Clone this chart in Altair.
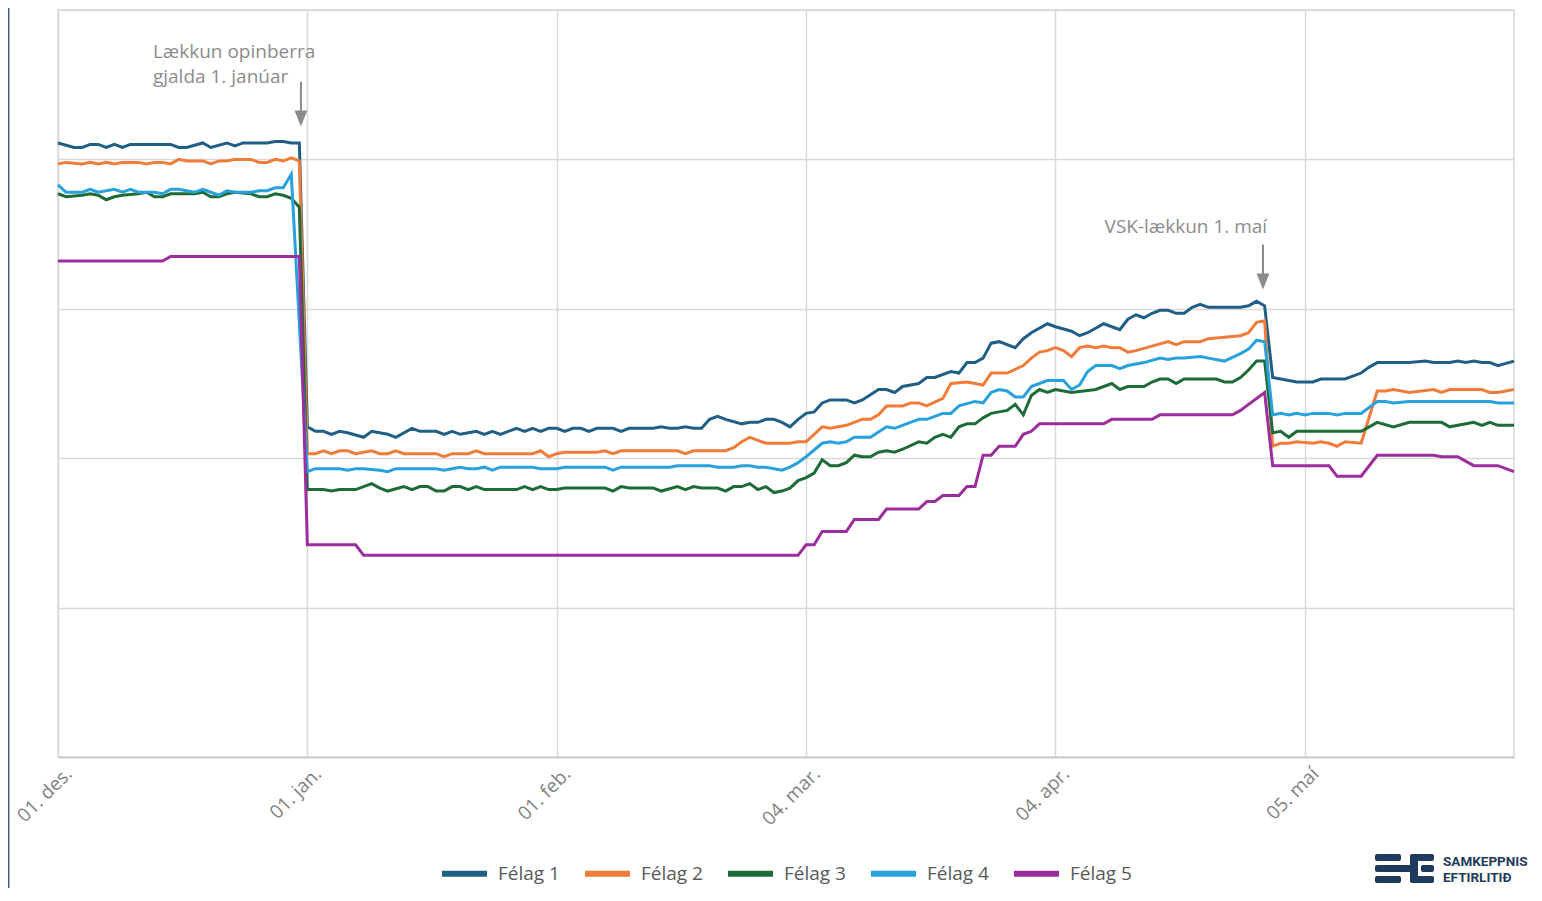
import altair as alt
import pandas as pd

# ---------------- data ----------------
felog = ["Félag 1", "Félag 2", "Félag 3", "Félag 4", "Félag 5"]
litir = ["#1f5f85", "#f07c3a", "#1d6b36", "#28a1dc", "#9c2d9c"]

# x = day number counted from 1 December
dags_stadir = [0, 31, 62, 93, 124, 155]
dags_merki = ["01. des.", "01. jan.", "01. feb.", "04. mar.", "04. apr.", "05. maí"]

f1_dagar = [0, 2, 3, 4, 5, 6, 7, 8, 9, 14, 15, 16, 18, 19, 21, 22, 23, 26, 27, 28, 29, 30,
            31, 32, 33, 34, 35, 36, 38, 39, 41, 42, 44, 45, 47, 48, 49, 50, 52, 53, 54, 55, 57, 58, 59, 60, 61, 62,
            63, 64, 65, 66, 67, 69, 70, 71, 74, 75, 76, 77, 78, 79, 80, 81, 82, 83, 85, 86, 87, 88, 89, 90, 91, 92, 93,
            94, 95, 96, 98, 99, 100, 102, 103, 104, 105, 107, 108, 109, 111, 112, 113, 114, 115, 116, 117, 119, 120, 121, 123,
            124, 126, 127, 128, 130, 131, 132, 133, 134, 135, 136, 137, 138, 139, 140, 141, 142, 143, 147, 148, 149, 150,
            151, 152, 153, 154, 156, 157, 160, 162, 163, 164, 168, 170, 171, 173, 174, 175, 176, 177, 178, 179, 181]
f1_gildi = [411, 408, 408, 410, 410, 408, 410, 408, 410, 410, 408, 408, 411, 408, 411, 409, 411, 411, 412, 412, 411, 411,
            221, 218, 218, 216, 218, 217, 214, 218, 216, 214, 220, 218, 218, 216, 218, 216, 218, 216, 218, 216, 220, 218, 220, 218, 220, 220,
            218, 220, 220, 218, 220, 220, 218, 220, 220, 221, 220, 220, 221, 220, 220, 226, 228, 226, 223, 224, 224, 226, 226, 224, 221, 226, 230,
            231, 237, 239, 239, 237, 239, 246, 246, 244, 248, 250, 254, 254, 258, 257, 264, 264, 267, 277, 278, 274, 280, 284, 290,
            288, 285, 282, 284, 290, 288, 286, 293, 296, 294, 297, 299, 299, 297, 297, 301, 303, 301, 301, 302, 305, 302,
            254, 253, 252, 251, 251, 253, 253, 257, 261, 264, 264, 265, 264, 264, 265, 264, 265, 264, 264, 262, 265]

f2_dagar = [0, 1, 3, 4, 5, 6, 7, 8, 10, 11, 12, 13, 14, 15, 16, 18, 19, 20, 21, 22, 24, 25, 26, 27, 28, 29, 30,
            31, 32, 33, 34, 35, 36, 37, 39, 40, 41, 42, 43, 47, 48, 49, 51, 52, 53, 59, 60, 61, 62,
            63, 67, 68, 69, 70, 77, 78, 79, 83, 84, 85, 86, 88, 91, 92, 93,
            95, 96, 98, 100, 101, 102, 103, 105, 106, 107, 108, 110, 111, 113, 115, 116, 118, 120, 121, 122, 123,
            124, 125, 126, 127, 128, 129, 130, 131, 132, 133, 134, 136, 138, 139, 140, 142, 143, 145, 147, 148, 149, 150,
            151, 152, 153, 154, 156, 157, 158, 159, 160, 162, 164, 165, 166, 168, 171, 172, 173, 177, 178, 179, 181]
f2_gildi = [397, 398, 397, 398, 397, 398, 397, 398, 398, 397, 398, 398, 397, 400, 399, 399, 397, 399, 399, 400, 400, 398, 398, 400, 399, 401, 399,
            203, 203, 205, 203, 205, 205, 203, 205, 203, 203, 205, 203, 203, 201, 203, 203, 205, 203, 203, 205, 201, 203,
            204, 204, 205, 203, 205, 205, 203, 205, 205, 207, 211, 214, 210, 210, 211, 211,
            221, 220, 222, 226, 226, 229, 235, 235, 237, 237, 235, 240, 250, 251, 249, 257, 257, 262, 267, 271, 272,
            274, 272, 268, 274, 275, 274, 275, 274, 274, 271, 272, 275, 278, 276, 278, 278, 280, 281, 282, 284, 291, 292,
            208, 210, 210, 211, 210, 211, 210, 208, 211, 210, 245, 245, 246, 244, 246, 244, 246, 246, 244, 244, 246]

f3_dagar = [0, 1, 3, 4, 5, 6, 7, 8, 10, 11, 12, 13, 14, 17, 18, 19, 20, 21, 22, 24, 25, 26, 27, 28, 29, 30,
            31, 32, 33, 34, 35, 37, 39, 40, 41, 43, 44, 45, 46, 47, 48, 49, 50, 51, 52, 53, 57, 58, 59, 60, 61, 62,
            63, 68, 69, 70, 71, 74, 75, 77, 78, 79, 80, 82, 83, 84, 85, 86, 87, 88, 89, 90, 91,
            92, 93, 94, 95, 96, 97, 98, 99, 100, 101, 102, 103, 104, 105, 107, 108, 109, 110, 111, 112, 113, 114, 115, 116, 117, 118, 119, 120, 121, 122, 123,
            124, 126, 129, 130, 131, 132, 133, 135, 136, 137, 138, 139, 140, 144, 145, 146, 147, 148, 149, 150,
            151, 152, 153, 154, 160, 162, 163, 164, 166, 168, 172, 173, 176, 177, 178, 179, 181]
f3_gildi = [377, 375, 376, 377, 376, 373, 375, 376, 377, 378, 375, 375, 377, 377, 378, 375, 375, 377, 378, 377, 375, 375, 377, 376, 374, 368,
            179, 179, 179, 178, 179, 179, 183, 180, 178, 181, 179, 181, 181, 178, 178, 181, 181, 179, 181, 179, 179, 181, 179, 181, 179, 179,
            180, 180, 178, 181, 180, 180, 178, 181, 179, 181, 180, 180, 178, 181, 181, 183, 179, 181, 177, 178, 180,
            185, 187, 190, 199, 195, 195, 197, 202, 201, 201, 204, 205, 204, 206, 211, 210, 214, 216, 214, 221, 223, 223, 227, 230, 231, 232, 236, 229, 242, 246, 244,
            246, 244, 246, 248, 250, 246, 248, 248, 251, 253, 253, 250, 253, 253, 251, 251, 254, 259, 265, 265,
            217, 218, 214, 218, 218, 218, 221, 224, 221, 224, 224, 221, 224, 222, 224, 222, 222]

f4_dagar = [0, 1, 3, 4, 5, 7, 8, 9, 10, 12, 13, 14, 15, 17, 18, 19, 20, 21, 22, 24, 25, 26, 27, 28, 29,
            31, 32, 34, 35, 36, 37, 38, 40, 41, 42, 43, 47, 48, 49, 50, 51, 52, 53, 54, 55, 59, 60, 62,
            63, 68, 69, 70, 76, 77, 81, 82, 84, 85, 86, 87, 88, 90, 91, 92, 93,
            95, 96, 97, 98, 99, 101, 103, 104, 107, 108, 109, 110, 111, 112, 114, 115, 116, 117, 118, 119, 120, 121, 122, 123,
            125, 126, 127, 128, 129, 131, 132, 133, 135, 137, 138, 139, 140, 142, 143, 145, 147, 148, 149, 150,
            151, 152, 153, 154, 155, 156, 158, 159, 160, 162, 163, 164, 165, 166, 168, 178, 179, 181]
f4_gildi = [383, 378, 378, 380, 378, 380, 378, 380, 378, 378, 377, 380, 380, 378, 380, 378, 376, 379, 378, 378, 379, 379, 381, 381, 390,
            191, 193, 193, 193, 192, 193, 193, 192, 191, 193, 193, 193, 192, 193, 194, 193, 193, 194, 192, 194, 194, 193, 193,
            194, 194, 192, 194, 194, 195, 195, 194, 194, 195, 195, 194, 194, 192, 194, 197, 201,
            210, 211, 210, 211, 214, 214, 221, 220, 226, 226, 228, 230, 230, 235, 238, 237, 244, 246, 245, 241, 241, 248, 250, 252,
            252, 246, 249, 258, 262, 262, 260, 262, 264, 267, 266, 267, 267, 268, 267, 265, 270, 273, 279, 278,
            229, 230, 229, 230, 229, 230, 230, 229, 230, 230, 234, 238, 238, 237, 238, 238, 237, 237]

f5_dagar = [0, 13, 14, 30, 31, 37, 38, 92, 93, 94, 95, 98, 99, 102, 103, 107, 108, 109, 110, 112, 113, 114,
            115, 116, 117, 119, 120, 121, 122, 130, 131, 136, 137, 146, 147, 148, 149, 150,
            151, 158, 159, 162, 164, 171, 172, 174, 176, 179, 181]
f5_gildi = [332, 332, 335, 335, 142, 142, 135, 135, 142, 142, 151, 151, 159, 159, 166, 166, 171, 171, 175, 175, 181, 181,
            202, 202, 208, 208, 216, 218, 223, 223, 226, 226, 229, 229, 232, 236, 240, 244,
            195, 195, 188, 188, 202, 202, 201, 201, 195, 195, 191]

radir = []
for nafn, dagar, gildi in zip(felog,
                              [f1_dagar, f2_dagar, f3_dagar, f4_dagar, f5_dagar],
                              [f1_gildi, f2_gildi, f3_gildi, f4_gildi, f5_gildi]):
    for d, g in zip(dagar, gildi):
        radir.append({"felag": nafn, "dagur": d, "gildi": g})
df = pd.DataFrame(radir)

# ---------------- styling ----------------
FONT = "Open Sans"
GRID = "#d9d9d9"
ANNO = "#8c8c8c"
NAVY = "#1e3a5c"

merki_js = "[" + ",".join("'" + m + "'" for m in dags_merki) + "]"
stadir_js = "[" + ",".join(str(s) for s in dags_stadir) + "]"

x_enc = alt.X(
    "dagur:Q",
    scale=alt.Scale(domain=[0, 181], nice=False, zero=False),
    axis=alt.Axis(
        values=dags_stadir,
        labelExpr=f"{merki_js}[indexof({stadir_js}, datum.value)]",
        labelAngle=-45, labelAlign="right", labelBaseline="top",
        labelPadding=7, labelOffset=4, labelFontSize=19, labelFont=FONT, labelColor="#7f7f7f",
        ticks=False, grid=True, gridColor=GRID, gridWidth=1.5,
        domain=True, domainColor="#c8c8c8", domainWidth=1.5, title=None,
    ),
)
y_enc = alt.Y(
    "gildi:Q",
    scale=alt.Scale(domain=[0, 500], nice=False),
    axis=alt.Axis(values=[0, 100, 200, 300, 400, 500], labels=False, ticks=False,
                  domain=False, grid=True, gridColor=GRID, gridWidth=1.5, title=None),
)

lines = alt.Chart(df).mark_line(strokeWidth=3).encode(
    x=x_enc,
    y=y_enc,
    color=alt.Color(
        "felag:N",
        scale=alt.Scale(domain=felog, range=litir),
        legend=alt.Legend(
            title=None, orient="none", legendX=381, legendY=838, direction="horizontal",
            symbolType="stroke", symbolStrokeWidth=6, symbolSize=2025,
            labelFontSize=19, labelFont=FONT, labelColor="#595959",
            labelOffset=8, columnPadding=13,
        ),
    ),
)

one = alt.Data(values=[{}])

def anno_text(txt, d, v):
    return alt.Chart(one).mark_text(
        text=txt, align="left", baseline="middle", font=FONT, fontSize=19, color=ANNO
    ).encode(x=alt.datum(d), y=alt.datum(v))

def arrow(d, v_top, v_tip):
    shaft = alt.Chart(one).mark_rule(color=ANNO, strokeWidth=2).encode(
        x=alt.datum(d), y=alt.datum(v_top), y2=alt.datum(v_tip + 6)
    )
    head = alt.Chart(one).mark_point(
        shape="M-0.8,-2L0.8,-2L0,0Z", size=256, filled=True, color=ANNO, opacity=1, strokeWidth=0
    ).encode(x=alt.datum(d), y=alt.datum(v_tip))
    return shaft + head

annotations = (
    anno_text("Lækkun opinberra", 11.8, 472)
    + anno_text("gjalda 1. janúar", 11.8, 455)
    + arrow(30.2, 452, 422)
    + anno_text("VSK-lækkun 1. maí", 130.1, 355)
    + arrow(149.8, 343, 313)
)

# logo (pixel-positioned decoration, bottom right)
def bar(x1, x2, y1, y2, r=2):
    return alt.Chart(one).mark_rect(color=NAVY, cornerRadius=r).encode(
        x=alt.value(x1), x2=alt.value(x2), y=alt.value(y1), y2=alt.value(y2)
    )

lx, ly = -58, -14
logo = (
    bar(1375 + lx, 1401 + lx, 858 + ly, 865 + ly)
    + bar(1375 + lx, 1416 + lx, 869 + ly, 876 + ly)
    + bar(1375 + lx, 1401 + lx, 880 + ly, 887 + ly)
    + bar(1410 + lx, 1434 + lx, 858 + ly, 865 + ly)
    + bar(1421 + lx, 1434 + lx, 869 + ly, 876 + ly)
    + bar(1410 + lx, 1434 + lx, 880 + ly, 887 + ly)
    + bar(1410 + lx, 1418 + lx, 858 + ly, 887 + ly, r=4)
    + alt.Chart(one).mark_text(text="SAMKEPPNIS", align="left", baseline="middle",
                               font="Roboto", fontWeight="bold", fontSize=13.5, color=NAVY)
      .encode(x=alt.value(1443 + lx), y=alt.value(866 + ly))
    + alt.Chart(one).mark_text(text="EFTIRLITIÐ", align="left", baseline="middle",
                               font="Roboto", fontWeight="bold", fontSize=13.5, color=NAVY)
      .encode(x=alt.value(1443 + lx), y=alt.value(882 + ly))
)

frame = alt.Chart(one).mark_rule(color="#4a5878", strokeWidth=1.5).encode(
    x=alt.value(-49.3), y=alt.value(-12), y2=alt.value(882)
)

chart = (
    alt.layer(lines, annotations, logo, frame)
    .properties(
        width=1456, height=747,
        padding={"left": 50, "top": 2, "right": 20, "bottom": 131},
        autosize=alt.AutoSizeParams(type="none"),
        background="white",
    )
    .configure_view(stroke=GRID, strokeWidth=1.5)
)

chart.save("out.html", embed_options={"renderer": "svg", "actions": False})
